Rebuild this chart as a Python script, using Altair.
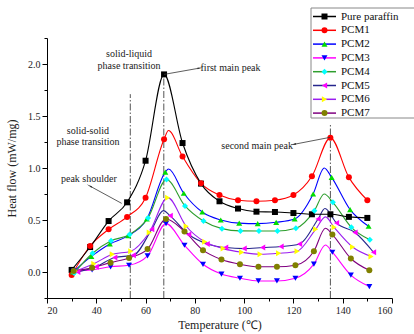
import math
import altair as alt
import pandas as pd

# ---------------- data ----------------
names = ["Pure paraffin", "PCM1", "PCM2", "PCM3", "PCM4", "PCM5", "PCM6", "PCM7"]

paraffin_t = [30, 37.5, 45, 52.5, 60, 67.5, 75, 82.5, 90, 97.5, 105, 112.5, 120, 127.5, 135, 142.5, 150]
paraffin_q = [0.02, 0.24, 0.49, 0.67, 1.07, 1.90, 1.24, 0.85, 0.68, 0.61, 0.58, 0.577, 0.567, 0.555, 0.555, 0.53, 0.52]

pcm1_t = [30, 37.5, 45, 52.5, 60, 67.5, 75, 82.5, 90, 97.5, 105, 112.5, 120, 127.5, 135, 142.5, 150]
pcm1_q = [-0.03, 0.25, 0.41, 0.53, 0.715, 1.276, 1.11, 0.853, 0.74, 0.69, 0.68, 0.69, 0.74, 0.92, 1.29, 0.91, 0.69]

pcm2_t = [30.5, 38, 45.5, 53, 60.5, 68, 75.5, 83, 90.5, 98, 105.5, 113, 120.5, 128, 135.5, 143, 150.5]
pcm2_q = [0.0, 0.15, 0.27, 0.35, 0.51, 0.96, 0.757, 0.577, 0.50, 0.47, 0.465, 0.478, 0.51, 0.75, 0.91, 0.60, 0.44]

pcm3_t = [30.8, 38.3, 45.8, 53.3, 60.8, 68.3, 75.8, 83.3, 90.8, 98.3, 105.8, 113.3, 120.8, 128.3, 135.8, 143.3, 150.8]
pcm3_q = [0.01, 0.02, 0.05, 0.065, 0.155, 0.465, 0.257, 0.074, -0.02, -0.06, -0.086, -0.086, -0.06, 0.075, 0.19, -0.03, -0.14]

pcm4_t = [31, 38.5, 46, 53.5, 61, 68.5, 76, 83.5, 91, 98.5, 106, 113.5, 121, 128.5, 136, 143.5, 151]
pcm4_q = [-0.01, 0.18, 0.30, 0.36, 0.52, 0.89, 0.635, 0.49, 0.417, 0.395, 0.394, 0.394, 0.42, 0.59, 0.67, 0.43, 0.31]

pcm5_t = [32.5, 40, 47.5, 55, 62.5, 70, 77.5, 85, 92.5, 100, 107.5, 115, 122.5, 130, 137.5, 145, 152.5]
pcm5_q = [0.0, 0.05, 0.14, 0.16, 0.41, 0.54, 0.36, 0.27, 0.235, 0.225, 0.235, 0.245, 0.27, 0.51, 0.47, 0.38, 0.19]

pcm6_t = [31.5, 39, 46.5, 54, 61.5, 69, 76.5, 84, 91.5, 99, 106.5, 114, 121.5, 129, 136.5, 144, 151.5]
pcm6_q = [0.01, 0.08, 0.17, 0.20, 0.38, 0.715, 0.44, 0.29, 0.225, 0.19, 0.17, 0.18, 0.20, 0.41, 0.43, 0.24, 0.15]

pcm7_t = [30.8, 38.3, 45.8, 53.3, 60.8, 68.3, 75.8, 83.3, 90.8, 98.3, 105.8, 113.3, 120.8, 128.3, 135.8, 143.3, 150.8]
pcm7_q = [0.01, 0.04, 0.09, 0.135, 0.22, 0.51, 0.39, 0.21, 0.12, 0.074, 0.05, 0.05, 0.065, 0.20, 0.36, 0.13, 0.016]

peak_series = ["PCM1", "PCM2", "PCM2", "PCM3", "PCM4", "PCM5", "PCM5", "PCM6", "PCM7"]
peak_t = [69.3, 69.3, 132.5, 133.0, 132.5, 67.2, 132.8, 133.0, 133.0]
peak_q = [1.36, 0.99, 1.00, 0.26, 0.75, 0.59, 0.61, 0.53, 0.42]

line_colors = ["#000000", "#ff0000", "#0000ff", "#ff00ff", "#2e9e2e", "#26268c", "#9a1ef0", "#800080"]
marker_colors = ["#000000", "#ff0000", "#00dd00", "#0000ff", "#00ffff", "#ff00ff", "#ffff00", "#808000"]
marker_shapes = ["square", "circle", "triangle-up", "triangle-down", "diamond",
                 "triangle-left", "triangle-right", "circle"]

# axis ticks
x_major = [20, 40, 60, 80, 100, 120, 140, 160]
x_minor = [30, 50, 70, 90, 110, 130, 150]
y_major = [0.0, 0.5, 1.0, 1.5, 2.0]
y_minor = [-0.25, 0.25, 0.75, 1.25, 1.75, 2.25]

# reference lines (dash-dot) and annotations
vline_t = [53.8, 67.4, 135.0]
vline_top = [1.71, 1.88, 1.42]

note_text = ["solid-liquid", "phase transition", "first main peak", "solid-solid",
             "phase transition", "peak shoulder", "second main peak"]
note_t = [53.3, 53.3, 82.3, 36.6, 36.6, 37.0, 119.8]
note_q = [2.093, 1.978, 1.965, 1.353, 1.247, 0.898, 1.209]
note_align = ["center", "center", "left", "center", "center", "center", "right"]

arrow_t0 = [67.5, 50.3, 134.9]
arrow_q0 = [1.90, 0.66, 1.295]
arrow_t1 = [81.8, 37.5, 120.3]
arrow_q1 = [1.960, 0.825, 1.228]

# ---------------- build tables ----------------
series_t = [paraffin_t, pcm1_t, pcm2_t, pcm3_t, pcm4_t, pcm5_t, pcm6_t, pcm7_t]
series_q = [paraffin_q, pcm1_q, pcm2_q, pcm3_q, pcm4_q, pcm5_q, pcm6_q, pcm7_q]

rows = []
for n, ts, qs in zip(names, series_t, series_q):
    for t, q in zip(ts, qs):
        rows.append({"series": n, "T": t, "Q": q})
pts = pd.DataFrame(rows)

line_df = pd.concat([pts, pd.DataFrame({"series": peak_series, "T": peak_t, "Q": peak_q})],
                    ignore_index=True).sort_values(["series", "T"])

W, H = 345, 260
XD = [20, 160]
YD = [-0.25, 2.25]
sx = W / (XD[1] - XD[0])
sy = H / (YD[1] - YD[0])

vl_df = pd.DataFrame({"T": vline_t, "top": vline_top, "bot": [YD[0]] * 3})
note_df = pd.DataFrame({"T": note_t, "Q": note_q, "txt": note_text, "al": note_align})
arr_df = pd.DataFrame({"T0": arrow_t0, "Q0": arrow_q0, "T1": arrow_t1, "Q1": arrow_q1})
arr_df["ang"] = [
    (math.degrees(math.atan2((a1 - a0) * sx, (b1 - b0) * sy)) + 360) % 360
    for a0, b0, a1, b1 in zip(arrow_t0, arrow_q0, arrow_t1, arrow_q1)
]

x_scale = alt.Scale(domain=XD, nice=False, zero=False)
y_scale = alt.Scale(domain=YD, nice=False, zero=False)

x_axis = alt.Axis(values=x_major, tickSize=5, title="Temperature (℃)",
                  titlePadding=4, labelPadding=2, format="d")
y_axis = alt.Axis(values=y_major, tickSize=5, format=".1f", title="Heat flow (mW/mg)",
                  titlePadding=9, labelPadding=2)

X = alt.X("T:Q", scale=x_scale, axis=x_axis)
Y = alt.Y("Q:Q", scale=y_scale, axis=y_axis)

line_scale = alt.Scale(domain=names, range=line_colors)
fill_scale = alt.Scale(domain=names, range=marker_colors)
shape_scale = alt.Scale(domain=names, range=marker_shapes)

FONT = "Liberation Serif"

lines = alt.Chart(line_df).mark_line(interpolate="monotone", strokeWidth=1.1).encode(
    x=X, y=Y,
    color=alt.Color("series:N", scale=line_scale, legend=None),
)
points = alt.Chart(pts).mark_point(filled=True, size=36, opacity=1, strokeWidth=0).encode(
    x="T:Q", y="Q:Q",
    fill=alt.Fill("series:N", scale=fill_scale, legend=None),
    shape=alt.Shape("series:N", scale=shape_scale, legend=None),
)
vlines = alt.Chart(vl_df).mark_rule(strokeDash=[7, 2, 1.5, 2], color="#555555", strokeWidth=1).encode(
    x="T:Q", y="bot:Q", y2="top:Q"
)


def note_layer(al):
    return alt.Chart(note_df[note_df.al == al]).mark_text(
        font=FONT, fontSize=10, color="#222222", align=al, baseline="middle").encode(
        x="T:Q", y="Q:Q", text="txt:N")


notes_c = note_layer("center")
notes_l = note_layer("left")
notes_r = note_layer("right")

arrows = alt.Chart(arr_df).mark_rule(color="#333333", strokeWidth=0.8).encode(
    x="T0:Q", y="Q0:Q", x2="T1:Q", y2="Q1:Q")
heads = alt.Chart(arr_df).mark_point(shape="wedge", filled=True, size=45, color="#333333", opacity=1).encode(
    x="T1:Q", y="Q1:Q", angle=alt.Angle("ang:Q", scale=None))

# legend (drawn as marks, placed in pixel space at the top-right)
leg_df = pd.DataFrame({"series": names})
leg_df["py"] = [-21.5 + i * 13.8 for i in range(len(names))]

leg_box = alt.Chart(pd.DataFrame({"a": [0]})).mark_rect(
    fill="white", stroke="#888888", strokeWidth=1).encode(
    x=alt.value(264), x2=alt.value(400), y=alt.value(-30), y2=alt.value(80))
leg_line = alt.Chart(leg_df).mark_rule(strokeWidth=1.5).encode(
    x=alt.value(266), x2=alt.value(289),
    y=alt.Y("py:Q", scale=None, axis=None),
    color=alt.Color("series:N", scale=line_scale, legend=None))
leg_pt = alt.Chart(leg_df).mark_point(filled=True, size=36, opacity=1, strokeWidth=0).encode(
    x=alt.value(277.5),
    y=alt.Y("py:Q", scale=None, axis=None),
    fill=alt.Fill("series:N", scale=fill_scale, legend=None),
    shape=alt.Shape("series:N", scale=shape_scale, legend=None))
leg_txt = alt.Chart(leg_df).mark_text(font=FONT, fontSize=11, align="left", baseline="middle",
                                      color="#111111").encode(
    x=alt.value(294), y=alt.Y("py:Q", scale=None, axis=None), text="series:N")

main = alt.layer(
    vlines, lines, points, arrows, heads, notes_c, notes_l, notes_r,
    leg_box, leg_line, leg_pt, leg_txt,
)

# minor ticks: an invisible layer with its own (identical) scales and label-less axes
minor = alt.Chart(pd.DataFrame({"T": [XD[0]], "Q": [YD[0]]})).mark_point(opacity=0).encode(
    x=alt.X("T:Q", scale=x_scale,
            axis=alt.Axis(values=x_minor, labels=False, tickSize=3, domain=False,
                          title=None, orient="bottom")),
    y=alt.Y("Q:Q", scale=y_scale,
            axis=alt.Axis(values=y_minor, labels=False, tickSize=3, domain=False,
                          title=None, orient="left")),
)

chart = alt.layer(main, minor).resolve_scale(x="independent", y="independent").properties(
    width=W, height=H,
    autosize=alt.AutoSizeParams(type="none"),
    padding={"left": 47, "top": 38, "right": 22, "bottom": 36},
).configure_axis(
    domainColor="black", tickColor="black", labelColor="#222222", titleColor="#222222",
    labelFont=FONT, titleFont=FONT, labelFontSize=10, titleFontSize=12,
    titleFontWeight="normal", grid=False, domainWidth=1, tickWidth=1,
).configure_view(stroke=None)

chart.save("out.html", embed_options={"renderer": "svg", "actions": False})
